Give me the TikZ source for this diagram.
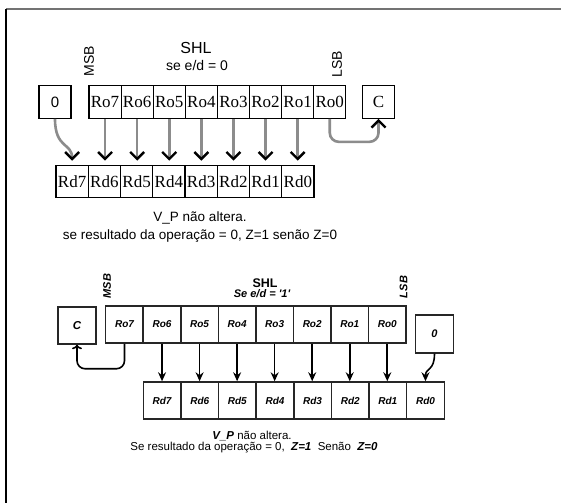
\documentclass[tikz,border=0pt]{standalone}
\usepackage{fontspec}
\setmainfont{Liberation Sans}
\newfontfamily\serifb{Liberation Serif}
\usetikzlibrary{arrows.meta,calc}
\begin{document}
\begin{tikzpicture}[x=1pt,y=-1pt,
  tbox/.style={draw=black,line width=1.2pt,minimum width=32.1pt,minimum height=32.5pt,inner sep=0pt,font=\serifb\fontsize{17}{17}\selectfont},
  bbox/.style={draw=black!85,line width=1.5pt,minimum width=37.6pt,minimum height=37pt,inner sep=0pt,font=\fontsize{10}{10}\selectfont\bfseries\itshape},
  garrow/.style={draw=black!45,line width=2.6pt,-{Straight Barb[color=black,length=7pt,width=14pt,line width=2.4pt]}},
  barrow/.style={draw=black,line width=1.6pt,-{Stealth[length=9pt,width=8pt,inset=3pt]}},
  carrow/.style={draw=black,line width=1.6pt,-{To[length=4.5pt,width=10pt]}},
  ttext/.style={anchor=base,inner sep=0pt,font=\fontsize{14}{14}\selectfont},
  btext/.style={anchor=base,inner sep=0pt,font=\fontsize{11.5}{12}\selectfont},
]
\useasboundingbox (0,0) rectangle (561,503);
\fill[white] (0,0) rectangle (561,503);
\draw[black!55,line width=1.5pt] (6,9) -- (561,9);
\draw[black,line width=1.5pt] (6,9) -- (6,503);

% ---------- top diagram ----------
\node[tbox,font=\fontsize{15}{15}\selectfont] (z0) at (55,102) {0};
\foreach \i [evaluate=\i as \x using 105.05+(7-\i)*32.1] in {7,6,...,0}
  \node[tbox] (ro\i) at (\x,102) {Ro\i};
\node[tbox] (tc) at (378.5,102) {C};
\foreach \i [evaluate=\i as \x using 72.1+(7-\i)*32.25] in {7,6,...,0}
  \node[tbox] (rd\i) at (\x,181.5) {Rd\i};

\foreach \i [evaluate=\i as \j using int(\i-1)] in {7,6,...,1}
  \draw[garrow,shorten >=4pt] (ro\i.south) -- (ro\i.south |- rd\j.north);
\draw[garrow,shorten >=4pt] (z0.south) .. controls +(0,30) and +(0,-22) .. (rd7.north);
\draw[garrow,rounded corners=9pt] (ro0.south) -- ++(0,23) -| (tc.south);

\node[ttext,font=\fontsize{16}{16}\selectfont] (tshl) at (196,53.5) {SHL};
\node[ttext] (ted) at (197,70) {se e/d = 0};
\node[ttext,anchor=center,rotate=90] (tmsb) at (89,61) {MSB};
\node[ttext,anchor=center,rotate=90] (tlsb) at (337,64) {LSB};
\node[ttext,font=\fontsize{13.5}{14}\selectfont] (tvp) at (200,221) {V\_P não altera.};
\node[ttext,font=\fontsize{13.5}{14}\selectfont] (tz) at (200,239) {se resultado da operação = 0, Z=1 senão Z=0};

% ---------- bottom diagram ----------
\node[bbox,font=\fontsize{11.5}{11.5}\selectfont\bfseries\itshape] (bc) at (77,325.5) {C};
\foreach \i [evaluate=\i as \x using 124.5+(7-\i)*37.54] in {7,6,...,0}
  \node[bbox] (bro\i) at (\x,324.5) {Ro\i};
\node[bbox,minimum height=37.6pt,font=\fontsize{11}{11}\selectfont\bfseries\itshape] (b0) at (434.5,334) {0};
\foreach \i [evaluate=\i as \x using 162.1+(7-\i)*37.625] in {7,6,...,0}
  \node[bbox] (brd\i) at (\x,400.5) {Rd\i};

\foreach \i [evaluate=\i as \j using int(\i+1)] in {6,5,...,0}
  \draw[barrow] (bro\i.south) -- (bro\i.south |- brd\j.north);
\draw[barrow] (b0.south) .. controls +(0,18) and +(0,-14) .. (brd0.north);
\draw[carrow,rounded corners=8pt] (bro7.south) -- ++(0,25) -| (bc.south);

\node[btext,font=\fontsize{12.5}{13}\selectfont\bfseries] (bshl) at (265,287) {SHL};
\node[btext,font=\fontsize{11}{12}\selectfont\bfseries\itshape] (bed) at (262,297.5) {Se e/d = \textquotesingle1\textquotesingle};
\node[btext,anchor=center,rotate=90,font=\fontsize{11}{12}\selectfont\bfseries\itshape] (bmsb) at (107,286) {MSB};
\node[btext,anchor=center,rotate=90,font=\fontsize{11}{12}\selectfont\bfseries\itshape] (blsb) at (403.5,287) {LSB};
\node[btext] (bvp) at (252,439) {{\bfseries\itshape V\_P} não altera.};
\node[btext] (bz) at (254,450) {Se resultado da operação = 0,\ \ {\bfseries\itshape Z=1}\ \ Senão \ {\bfseries\itshape Z=0}};
\end{tikzpicture}
\end{document}
